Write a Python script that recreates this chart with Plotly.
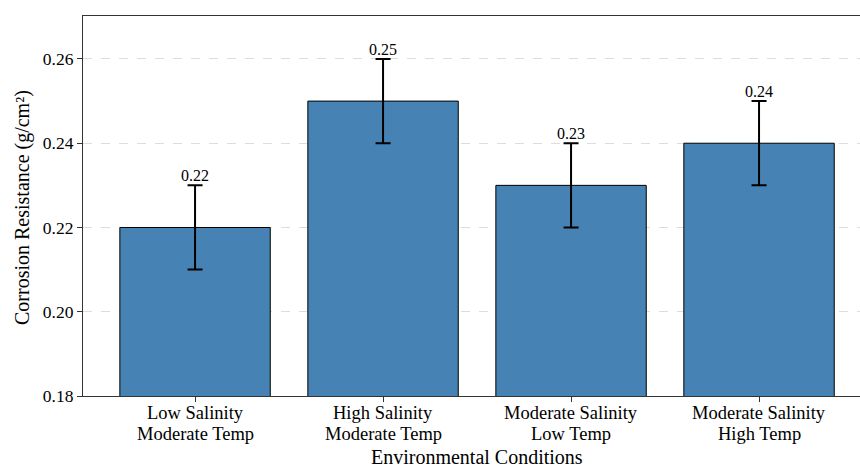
import plotly.graph_objects as go

categories = ["Low Salinity\nModerate Temp", "High Salinity\nModerate Temp",
              "Moderate Salinity\nLow Temp", "Moderate Salinity\nHigh Temp"]
values = [0.22, 0.25, 0.23, 0.24]
errors = [0.01, 0.01, 0.01, 0.01]
y_ticks = [0.18, 0.20, 0.22, 0.24, 0.26]

font = "Liberation Serif, Times New Roman, serif"
x_idx = list(range(len(categories)))

W, H = 860, 466
L, R, T, B = 83, 0, 16, 70
pw, ph = W - L - R, H - T - B


def py(pix):
    """page pixel row -> paper y fraction"""
    return (T + ph - pix) / ph


fig = go.Figure()
fig.add_trace(go.Bar(
    x=x_idx, y=values, width=0.8,
    marker=dict(color="#4682B4", line=dict(color="black", width=1)),
    error_y=dict(type="data", array=errors, visible=True, color="black",
                 thickness=2, width=7.5),
    showlegend=False,
))
fig.add_trace(go.Scatter(
    x=x_idx, y=[v + e for v, e in zip(values, errors)],
    text=[f"{v:.2f}" for v in values], mode="text",
    textposition="top center",
    textfont=dict(family=font, size=16, color="black"),
    showlegend=False, cliponaxis=False,
))

fig.update_layout(
    width=W, height=H,
    margin=dict(l=L, r=R, t=T, b=B, autoexpand=False),
    plot_bgcolor="white", paper_bgcolor="white",
    font=dict(family=font, size=17, color="black"),
    bargap=0.2,
)
fig.update_xaxes(
    range=[-0.596, 3.537], tickvals=x_idx, showticklabels=False,
    showgrid=False, showline=True, linecolor="#333", linewidth=1.2, mirror=True,
    ticks="outside", ticklen=5, tickcolor="#333",
    automargin=False, zeroline=False,
)
fig.update_yaxes(
    range=[0.18, 0.2702], tickvals=y_ticks, ticktext=[f"{t:.2f}" for t in y_ticks],
    showgrid=True, gridcolor="#dddddd", griddash="dash", gridwidth=1,
    showline=True, linecolor="#333", linewidth=1.2, mirror=False,
    ticks="outside", ticklen=5, tickcolor="#333",
    tickfont=dict(family=font, size=17.5),
    automargin=False, zeroline=False,
)

# category tick labels (two lines each, tighter line spacing than plotly's default)
for i, cat in enumerate(categories):
    for j, line in enumerate(cat.split("\n")):
        fig.add_annotation(
            text=line, xref="x", yref="paper", x=i, y=py(413 + 21 * j),
            xanchor="center", yanchor="middle", showarrow=False,
            font=dict(family=font, size=18.5),
        )

fig.add_annotation(
    text="Environmental Conditions", xref="paper", yref="paper",
    x=(477 - L) / pw, y=py(457), xanchor="center", yanchor="middle",
    showarrow=False, font=dict(family=font, size=20),
)
fig.add_annotation(
    text="Corrosion Resistance (g/cm²)", xref="paper", yref="paper",
    x=(22 - L) / pw, y=py(208), xanchor="center", yanchor="middle",
    textangle=-90, showarrow=False, font=dict(family=font, size=20),
)

fig.write_html(
    "out.html",
    config={"displayModeBar": False},
    post_script="document.body.style.margin='0';document.body.style.overflow='hidden';"
                "document.documentElement.style.overflow='hidden';",
)
